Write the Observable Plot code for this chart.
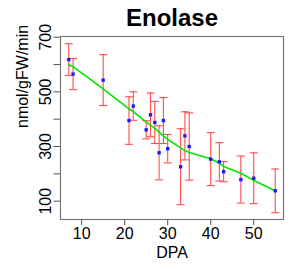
<!DOCTYPE html>
<html>
<head>
<meta charset="utf-8">
<script src="https://cdn.jsdelivr.net/npm/d3@7"></script>
<script src="https://cdn.jsdelivr.net/npm/@observablehq/plot@0.6"></script>
<style>
  body { margin: 0; background: white; }
</style>
</head>
<body>
<div id="chart"></div>
<script>
// DPA (days post anthesis) values
const dpa = [7, 8, 15, 21, 22, 25, 26, 27, 28, 29, 30, 33, 34, 35, 40, 42, 43, 47, 50, 55];
// Enolase activity means (nmol/gFW/min)
const activity = [618, 565, 543, 395, 448, 361, 416, 388, 277, 395, 292, 226, 339, 300, 254, 244, 208, 179, 184, 138];
// Error bar half-widths
const errors = [58, 57, 93, 87, 52, 33, 80, 77, 99, 84, 52, 139, 88, 123, 97, 70, 37, 86, 93, 80];
// Smoothed fit (green line), read at each DPA
const fitDpa = [7, 8, 15, 21, 22, 25, 26, 27, 28, 29, 30, 33, 34, 35, 40, 42, 43, 47, 50, 55];
const fitValue = [599, 592, 511, 438, 428, 389, 378, 366, 353, 339, 326, 295, 285, 278, 255, 239, 227, 202, 176, 138];
// Axis ticks
const xTicks = [10, 20, 30, 40, 50];
const yTicks = [100, 200, 300, 400, 500, 600, 700];
const yLabels = [100, 300, 500, 700];
const title = "Enolase";
const xLabel = "DPA";
const yLabel = "nmol/gFW/min";

const rows = dpa.map((x, i) => ({x, mean: activity[i], err: errors[i]}));
const fitRows = fitDpa.map((x, i) => ({x, y: fitValue[i]}));

const red = "#ff3b3b";
const capSymbol = {
  draw(context) {
    context.moveTo(-4, 0);
    context.lineTo(4, 0);
  }
};

const chart = Plot.plot({
  width: 291,
  height: 271,
  marginLeft: 60,
  marginRight: 8,
  marginTop: 36,
  marginBottom: 52,
  x: {domain: [5.08, 56.92]},
  y: {domain: [33, 702.5]},
  style: {fontFamily: "'Liberation Sans', Arial, sans-serif", background: "white", color: "black"},
  marks: [
    Plot.frame({stroke: "#777", strokeWidth: 1.2}),
    Plot.axisX({ticks: xTicks, tickSize: 6, tickPadding: 2, fontSize: 16, label: null, stroke: "#555", tickFormat: d => String(d)}),
    Plot.axisY({ticks: yTicks, tickSize: 6.5, tickFormat: () => "", label: null, stroke: "#555"}),
    Plot.text(yLabels, {text: d => String(d), y: d => d, frameAnchor: "left", dx: -9.5, rotate: -90, fontSize: 16, lineAnchor: "bottom", textAnchor: "middle", fill: "black"}),
    Plot.ruleX(rows, {x: "x", y1: d => d.mean - d.err, y2: d => d.mean + d.err, stroke: red, strokeWidth: 1.1, strokeOpacity: 0.9}),
    Plot.dot(rows, {x: "x", y: d => d.mean + d.err, symbol: capSymbol, stroke: red, fill: "none", strokeWidth: 1.1, strokeOpacity: 0.9}),
    Plot.dot(rows, {x: "x", y: d => d.mean - d.err, symbol: capSymbol, stroke: red, fill: "none", strokeWidth: 1.1, strokeOpacity: 0.9}),
    Plot.line(fitRows, {x: "x", y: "y", stroke: "#00e600", strokeWidth: 1.6}),
    Plot.dot(rows, {x: "x", y: "mean", symbol: "square", r: 1.9, fill: "#1a1aff", stroke: "none"}),
    Plot.text([title], {text: d => d, frameAnchor: "top", dy: -10.3, lineAnchor: "bottom", fontSize: 24, fontWeight: "bold", fill: "black"}),
    Plot.text([xLabel], {text: d => d, frameAnchor: "bottom", dy: 38.3, lineAnchor: "bottom", fontSize: 16, fill: "black"}),
    Plot.text([yLabel], {text: d => d, frameAnchor: "left", dx: -33, rotate: -90, lineAnchor: "bottom", fontSize: 16, fill: "black"})
  ]
});
document.getElementById("chart").appendChild(chart);
</script>
</body>
</html>
